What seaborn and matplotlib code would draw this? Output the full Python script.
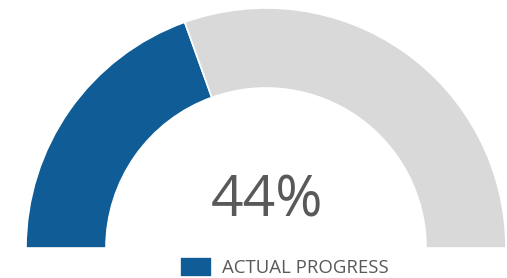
import matplotlib
matplotlib.use("Agg")
import matplotlib.pyplot as plt
import seaborn as sns

# gauge data (top half = progress + remaining, bottom half hidden)
segments = ["ACTUAL PROGRESS", "REMAINING", "HIDDEN"]
values = [39, 61, 100]
label_text = "44%"
colors = ["#0F5C97", "#D9D9D9", "none"]

sns.set_theme(style="white")
plt.rcParams["font.family"] = ["Open Sans", "DejaVu Sans"]

fig = plt.figure(figsize=(5.07, 2.78), dpi=100)
ax = fig.add_axes([0, 0, 1, 1])

wedges, _ = ax.pie(values, colors=colors, startangle=180, counterclock=False,
                   radius=240, center=(266, 30),
                   wedgeprops=dict(width=80, edgecolor="white", linewidth=1.2))
wedges[2].set_edgecolor("none")

ax.set_xlim(0, 507)
ax.set_ylim(0, 278)
ax.set_aspect("equal")
ax.axis("off")

ax.text(267, 76, label_text, ha="center", va="center", fontsize=41, color="#595959")

ax.legend(handles=[wedges[0]], labels=[segments[0]], loc="upper left",
          bbox_to_anchor=(180, 21), bbox_transform=ax.transData,
          frameon=False, fontsize=13.4, labelcolor="#595959",
          handlelength=1.7, handleheight=1.3, handletextpad=0.55,
          borderpad=0, borderaxespad=0)

fig.savefig("out.png", dpi=100)
